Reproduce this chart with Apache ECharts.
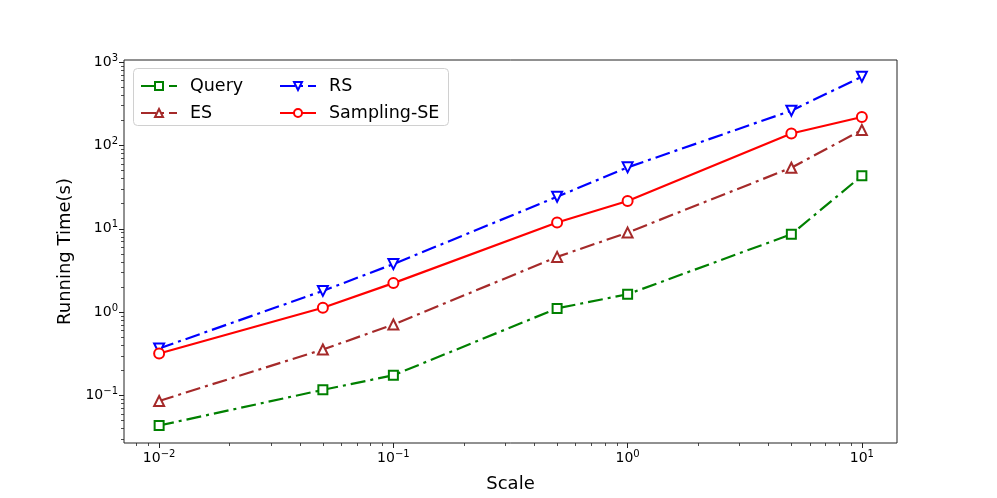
<!DOCTYPE html>
<html>
<head>
<meta charset="utf-8">
<script src="https://cdn.jsdelivr.net/npm/echarts@6/dist/echarts.min.js"></script>
<style>
  html, body { margin: 0; padding: 0; background: #fff; }
  #chart { width: 997px; height: 498px; }
</style>
</head>
<body>
<div id="chart"></div>
<script>
// scale values on the x axis
var scales = [0.01, 0.05, 0.1, 0.5, 1, 5, 10];

// running time (s) per method
var queryTimes = [0.0437, 0.117, 0.175, 1.11, 1.64, 8.6, 43.2];
var esTimes = [0.0862, 0.356, 0.71, 4.6, 9.0, 54, 153];
var rsTimes = [0.367, 1.80, 3.77, 24.2, 54.5, 261, 667];
var samplingTimes = [0.319, 1.13, 2.23, 11.9, 21.5, 139, 219];

// major tick labels (exponents of ten)
var xExps = [-2, -1, 0, 1];
var yExps = [-1, 0, 1, 2, 3];

function minorTicks(fromExp, toExp) {
    var out = [];
    for (var e = fromExp; e <= toExp; e++) {
        for (var k = 2; k <= 9; k++) out.push(k * Math.pow(10, e));
    }
    return out;
}

function pairs(xs, ys) {
    return xs.map(function (x, i) { return [x, ys[i]]; });
}

function sup(v) {
    var e = Math.round(Math.log10(v));
    return '{b|10}{s|' + String(e).replace('-', '\u2212') + '}';
}

var xMin = Math.pow(10, -2.15), xMax = Math.pow(10, 1.15);
var yMin = Math.pow(10, -1.569), yMax = Math.pow(10, 3.024);

var xMajor = xExps.map(function (e) { return Math.pow(10, e); });
var yMajor = yExps.map(function (e) { return Math.pow(10, e); });
var xMinor = minorTicks(-3, 1).filter(function (v) { return v > xMin && v < xMax; });
var yMinor = minorTicks(-2, 3).filter(function (v) { return v > yMin && v < yMax; });

var rich = {
    b: { fontSize: 14, color: '#000', fontFamily: 'DejaVu Sans' },
    s: { fontSize: 10, color: '#000', fontFamily: 'DejaVu Sans', padding: [0, 0, 8, 0] }
};

var dashDot = [15, 5, 3, 5];

function lineSeries(name, data, color, symbol, rotate, dashed) {
    return {
        name: name,
        type: 'line',
        xAxisIndex: 0,
        yAxisIndex: 0,
        data: pairs(scales, data),
        symbol: symbol,
        symbolSize: symbol === 'rect' ? 9 : 10,
        symbolRotate: rotate,
        showSymbol: true,
        itemStyle: { color: '#fff', borderColor: color, borderWidth: 2 },
        lineStyle: { color: color, width: 2.2, type: dashed ? dashDot : 'solid' },
        emphasis: { disabled: true },
        animation: false
    };
}

var legendText = { fontSize: 17.5, fontFamily: 'DejaVu Sans', color: '#000', padding: [0, 0, 0, 8] };

var chart = echarts.init(document.getElementById('chart'), null, { renderer: 'canvas' });

var option = {
    backgroundColor: '#fff',
    animation: false,
    grid: {
        left: 124, right: 100, top: 60, bottom: 55,
        show: true, borderColor: '#222', borderWidth: 1, backgroundColor: 'transparent'
    },
    graphic: [{
        type: 'rect',
        z: 50,
        shape: { x: 133.5, y: 68.5, width: 315, height: 57, r: 4 },
        style: { fill: 'rgba(255,255,255,0.85)', stroke: '#d0d0d0', lineWidth: 1 }
    }],
    legend: [{
        orient: 'vertical',
        left: 135, top: 72,
        itemWidth: 36, itemHeight: 10,
        itemGap: 9,
        z: 60,
        data: ['Query', 'ES'],
        textStyle: legendText
    }, {
        orient: 'vertical',
        left: 274, top: 72,
        itemWidth: 36, itemHeight: 10,
        itemGap: 9,
        z: 60,
        data: ['RS', 'Sampling-SE'],
        textStyle: legendText
    }],
    xAxis: [{
        type: 'log',
        position: 'bottom',
        min: xMin, max: xMax,
        name: 'Scale',
        nameLocation: 'middle',
        nameGap: 32,
        nameTextStyle: { fontSize: 18, fontFamily: 'DejaVu Sans', color: '#000' },
        axisLine: { show: false },
        axisTick: { show: true, length: 5, customValues: xMajor, lineStyle: { color: '#222', width: 1 } },
        axisLabel: { customValues: xMajor, formatter: sup, rich: rich, margin: 6 },
        splitLine: { show: false }
    }, {
        type: 'log',
        position: 'bottom',
        min: xMin, max: xMax,
        axisLine: { show: false },
        axisTick: { show: true, length: 3, customValues: xMinor, lineStyle: { color: '#222', width: 0.8 } },
        axisLabel: { show: false },
        splitLine: { show: false }
    }],
    yAxis: [{
        type: 'log',
        position: 'left',
        min: yMin, max: yMax,
        name: 'Running Time(s)',
        nameLocation: 'middle',
        nameGap: 44,
        nameTextStyle: { fontSize: 18, fontFamily: 'DejaVu Sans', color: '#000' },
        axisLine: { show: false },
        axisTick: { show: true, length: 5, customValues: yMajor, lineStyle: { color: '#222', width: 1 } },
        axisLabel: { customValues: yMajor, formatter: sup, rich: rich, margin: 6 },
        splitLine: { show: false }
    }, {
        type: 'log',
        position: 'left',
        min: yMin, max: yMax,
        axisLine: { show: false },
        axisTick: { show: true, length: 3, customValues: yMinor, lineStyle: { color: '#222', width: 0.8 } },
        axisLabel: { show: false },
        splitLine: { show: false }
    }],
    series: [
        lineSeries('Query', queryTimes, '#008000', 'rect', 0, true),
        lineSeries('ES', esTimes, '#a52a2a', 'triangle', 0, true),
        lineSeries('RS', rsTimes, '#0000ff', 'triangle', 180, true),
        lineSeries('Sampling-SE', samplingTimes, '#ff0000', 'circle', 0, false)
    ]
};

chart.setOption(option);
</script>
</body>
</html>
